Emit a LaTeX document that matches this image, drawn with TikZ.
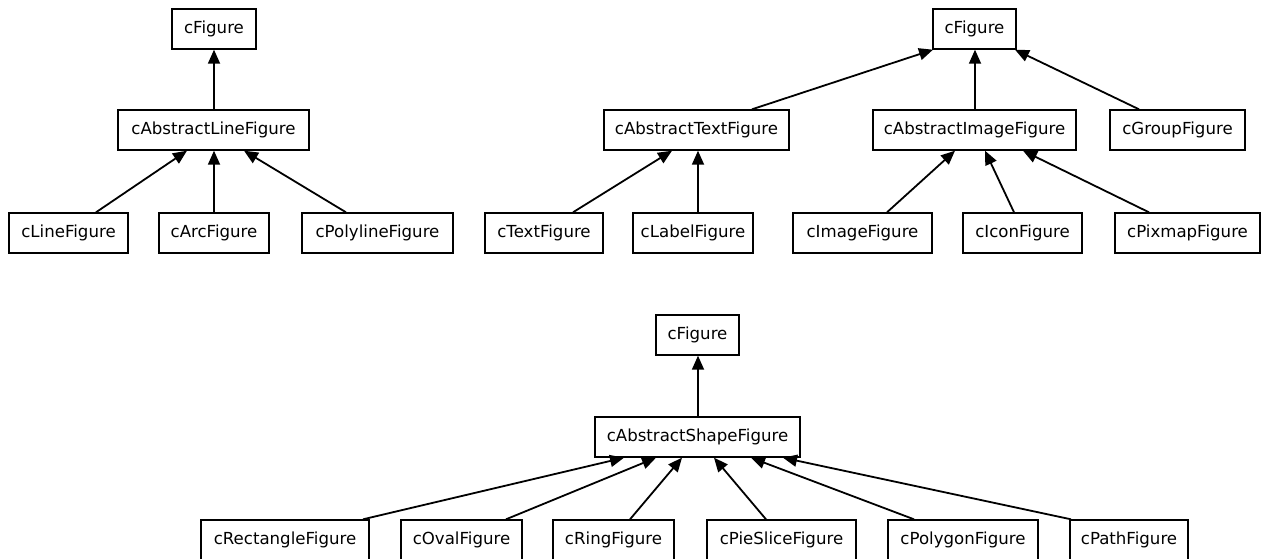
\documentclass[tikz,border=0pt]{standalone}
\usepackage{fontspec}
\setmainfont{DejaVu Sans}
\usetikzlibrary{arrows.meta}
\begin{document}
\begin{tikzpicture}[x=1pt,y=-1pt,
  cls/.style={draw=black,line width=1.4pt,fill=white,minimum height=40pt,inner sep=0pt,
    font=\fontsize{16.6}{19}\selectfont},
  inherit/.style={draw=black,line width=1.8pt,-{Triangle[length=14pt,width=12pt]}}]
\useasboundingbox (0,0) rectangle (1269,558);

% cAbstractLineFigure hierarchy
\node[cls,minimum width=84pt]  (f1)   at (214,29)    {cFigure};
\node[cls,minimum width=191pt] (aline) at (213.5,130) {cAbstractLineFigure};
\node[cls,minimum width=119pt] (line) at (68.5,233)   {cLineFigure};
\node[cls,minimum width=110pt] (arc)  at (214,233)    {cArcFigure};
\node[cls,minimum width=151pt] (poly) at (377.5,233)  {cPolylineFigure};

\draw[inherit] ([xshift=0.5pt]aline.north) -- ([xshift=0pt]f1.south);
\draw[inherit] ([xshift=27.5pt]line.north) -- ([xshift=-26.5pt]aline.south);
\draw[inherit] (arc.north) -- ([xshift=0.5pt]aline.south);
\draw[inherit] ([xshift=-31.5pt]poly.north) -- ([xshift=30.5pt]aline.south);

% text, image and group figures
\node[cls,minimum width=83pt]  (f2)     at (974.5,29)  {cFigure};
\node[cls,minimum width=185pt] (atext)  at (696.5,130) {cAbstractTextFigure};
\node[cls,minimum width=203pt] (aimage) at (974.5,130) {cAbstractImageFigure};
\node[cls,minimum width=135pt] (group)  at (1177.5,130) {cGroupFigure};
\node[cls,minimum width=118pt] (text)   at (544,233)   {cTextFigure};
\node[cls,minimum width=120pt] (label)  at (693,233)   {cLabelFigure};
\node[cls,minimum width=139pt] (image)  at (862.5,233) {cImageFigure};
\node[cls,minimum width=119pt] (icon)   at (1022.5,233) {cIconFigure};
\node[cls,minimum width=145pt] (pixmap) at (1187.5,233) {cPixmapFigure};

\draw[inherit] ([xshift=55.5pt]atext.north) -- ([xshift=-41.5pt]f2.south);
\draw[inherit] ([xshift=0.5pt]aimage.north) -- ([xshift=0.5pt]f2.south);
\draw[inherit] ([xshift=-38.5pt]group.north) -- ([xshift=40.5pt]f2.south);
\draw[inherit] ([xshift=29pt]text.north) -- ([xshift=-24.5pt]atext.south);
\draw[inherit] ([xshift=5pt]label.north) -- ([xshift=1.5pt]atext.south);
\draw[inherit] ([xshift=24.5pt]image.north) -- ([xshift=-19.5pt]aimage.south);
\draw[inherit] ([xshift=-8.5pt]icon.north) -- ([xshift=10.5pt]aimage.south);
\draw[inherit] ([xshift=-38.5pt]pixmap.north) -- ([xshift=48.5pt]aimage.south);

% cAbstractShapeFigure hierarchy
\node[cls,minimum width=83pt]  (f3)     at (697.5,335) {cFigure};
\node[cls,minimum width=205pt] (ashape) at (697.5,437) {cAbstractShapeFigure};
\node[cls,minimum width=168pt] (rect)   at (285,540)   {cRectangleFigure};
\node[cls,minimum width=121pt] (oval)   at (461.5,540) {cOvalFigure};
\node[cls,minimum width=121pt] (ring)   at (613.5,540) {cRingFigure};
\node[cls,minimum width=149pt] (pie)    at (781.5,540) {cPieSliceFigure};
\node[cls,minimum width=150pt] (polygon) at (963,540)  {cPolygonFigure};
\node[cls,minimum width=118pt] (path)   at (1129,540)  {cPathFigure};

\draw[inherit] ([xshift=0.5pt]ashape.north) -- ([xshift=0.5pt]f3.south);
\draw[inherit] ([xshift=78pt]rect.north) -- ([xshift=-73.5pt]ashape.south);
\draw[inherit] ([xshift=44.5pt]oval.north) -- ([xshift=-41.5pt]ashape.south);
\draw[inherit] ([xshift=16.5pt]ring.north) -- ([xshift=-15.5pt]ashape.south);
\draw[inherit] ([xshift=-15.5pt]pie.north) -- ([xshift=16.5pt]ashape.south);
\draw[inherit] ([xshift=-49pt]polygon.north) -- ([xshift=53.5pt]ashape.south);
\draw[inherit] ([xshift=-58pt]path.north) -- ([xshift=85.5pt]ashape.south);
\end{tikzpicture}
\end{document}
